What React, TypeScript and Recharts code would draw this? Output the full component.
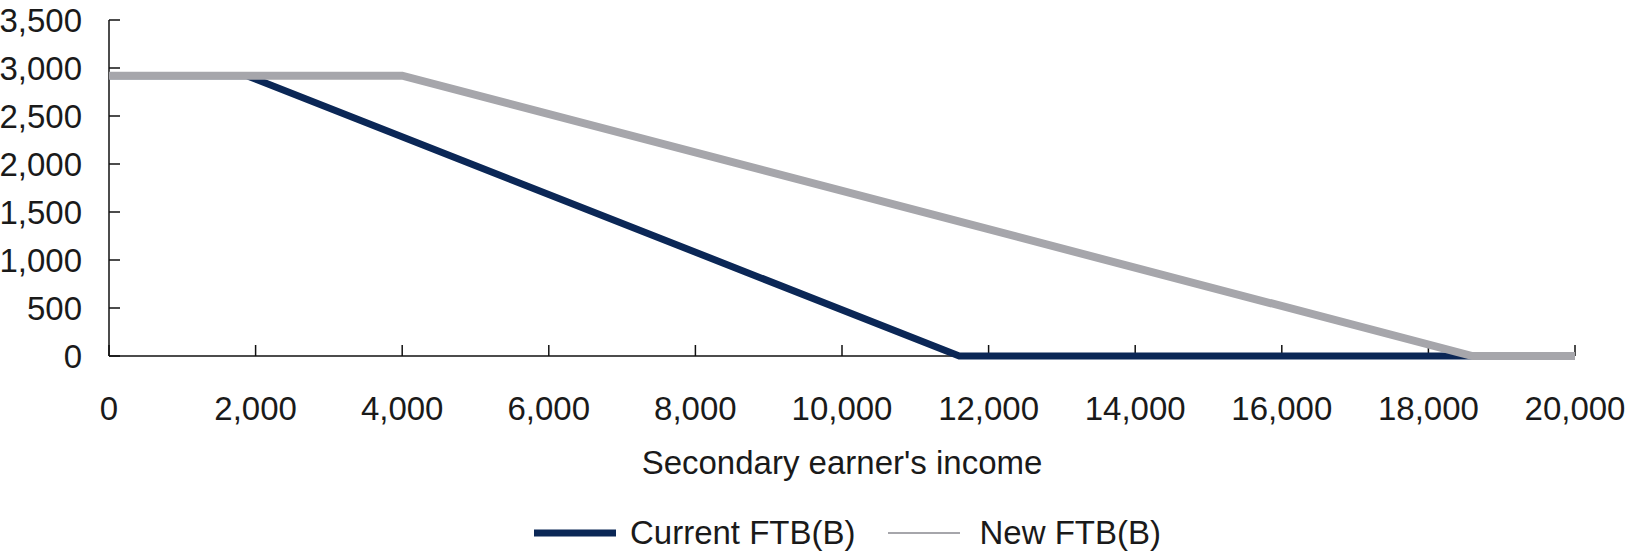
import { LineChart, Line, XAxis, YAxis, Legend, Label } from "recharts";

const FONT = "'Liberation Sans', Arial, sans-serif";
const DARK = "#0b2756";
const GREY = "#a6a6ab";

// secondary earner's income ($) -> FTB(B) payment ($)
const currentFtb = [
  { income: 0, value: 2920 },
  { income: 1880, value: 2920 },
  { income: 11600, value: 0 },
  { income: 18600, value: 0 },
];

const newFtb = [
  { income: 0, value: 2920 },
  { income: 4000, value: 2920 },
  { income: 18600, value: 0 },
  { income: 20000, value: 0 },
];

const xTicks = [0, 2000, 4000, 6000, 8000, 10000, 12000, 14000, 16000, 18000, 20000];
const yTicks = [0, 500, 1000, 1500, 2000, 2500, 3000, 3500];

const fmt = (v: number) => v.toLocaleString("en-US");

function LegendRow() {
  return (
    <div
      style={{
        display: "flex",
        alignItems: "center",
        height: 44,
        width: 1630,
        fontFamily: FONT,
        fontSize: 33,
        color: "#1a1a1a",
        paddingLeft: 534,
        boxSizing: "border-box",
      }}
    >
      <svg width={82} height={10} style={{ marginRight: 14 }}>
        <line x1={0} y1={5} x2={82} y2={5} stroke={DARK} strokeWidth={7} />
      </svg>
      <span>Current FTB(B)</span>
      <svg width={72} height={10} style={{ marginLeft: 32, marginRight: 20 }}>
        <line x1={0} y1={5} x2={72} y2={5} stroke={GREY} strokeWidth={2} />
      </svg>
      <span>New FTB(B)</span>
    </div>
  );
}

export default function App() {
  return (
    <div style={{ position: "absolute", left: 0, top: 0, background: "#fff", fontFamily: FONT }}>
      <LineChart width={1630} height={555} margin={{ top: 20, right: 55, bottom: 0, left: 0 }}>
        <XAxis
          type="number"
          dataKey="income"
          domain={[0, 20000]}
          ticks={xTicks}
          tickFormatter={fmt}
          allowDuplicatedCategory={false}
          height={155}
          tickSize={-11}
          tickMargin={52}
          axisLine={{ stroke: "#111", strokeWidth: 1.5 }}
          tickLine={{ stroke: "#111", strokeWidth: 1.5 }}
          tick={{ fill: "#1a1a1a", fontSize: 33, fontFamily: FONT }}
        >
          <Label
            value="Secondary earner's income"
            position="insideBottom"
            offset={37}
            style={{ fill: "#1a1a1a", fontSize: 33, fontFamily: FONT }}
          />
        </XAxis>
        <YAxis
          type="number"
          domain={[0, 3500]}
          ticks={yTicks}
          tickFormatter={fmt}
          width={109}
          tickSize={-11}
          tickMargin={38}
          axisLine={{ stroke: "#111", strokeWidth: 1.5 }}
          tickLine={{ stroke: "#111", strokeWidth: 1.5 }}
          tick={{ fill: "#1a1a1a", fontSize: 33, fontFamily: FONT }}
        />
        <Legend
          verticalAlign="bottom"
          height={44}
          wrapperStyle={{ left: 0, width: 1630 }}
          content={() => <LegendRow />}
        />
        <Line
          data={currentFtb}
          dataKey="value"
          name="Current FTB(B)"
          type="linear"
          stroke={DARK}
          strokeWidth={7}
          dot={false}
          zIndex={600}
          isAnimationActive={false}
        />
        <Line
          data={newFtb}
          dataKey="value"
          name="New FTB(B)"
          type="linear"
          stroke={GREY}
          strokeWidth={8}
          dot={false}
          zIndex={610}
          isAnimationActive={false}
        />
      </LineChart>
    </div>
  );
}
